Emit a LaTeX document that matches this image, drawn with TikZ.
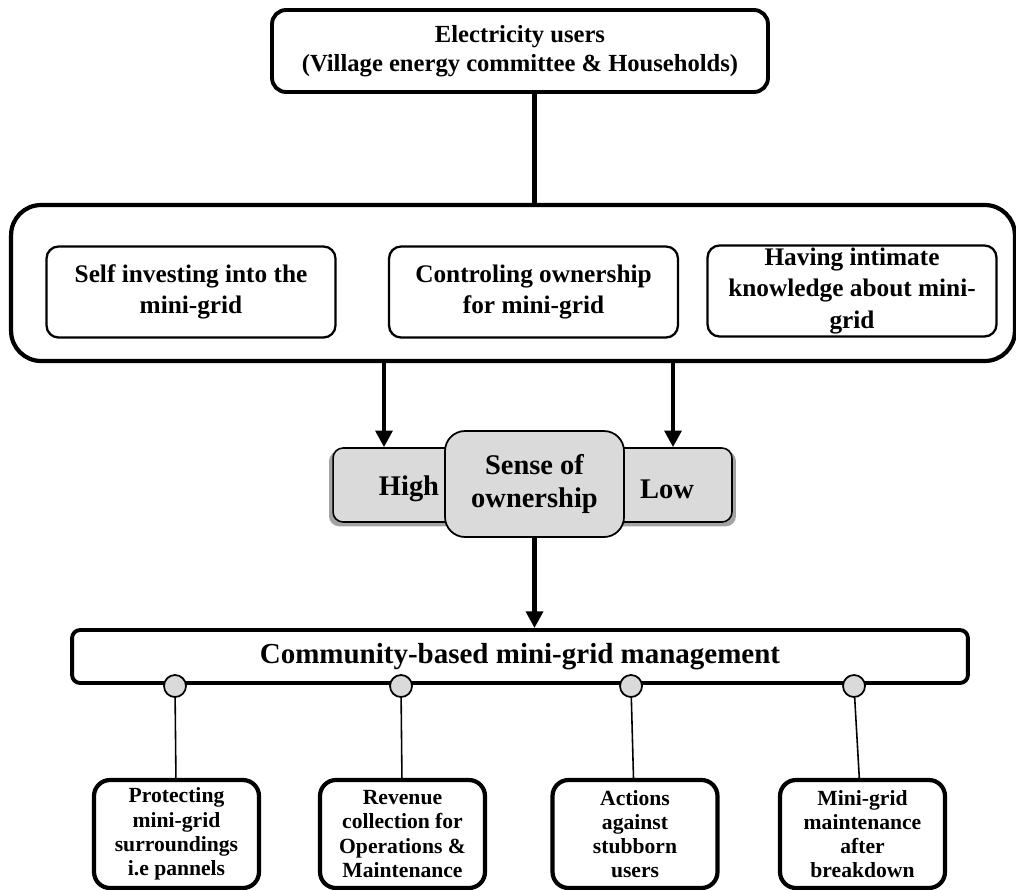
\documentclass[tikz,border=0pt]{standalone}
\usepackage{fontspec}
\setmainfont{Liberation Serif}
\usetikzlibrary{positioning,arrows.meta,shadows}
\definecolor{boxgray}{HTML}{DADADA}

\begin{document}
\begin{tikzpicture}[
    x=0.02cm, y=-0.02cm,
    userbox/.style={draw, line width=2.2pt, rounded corners=0.28cm, minimum width=9.92cm, minimum height=1.64cm, align=center, font=\bfseries\fontsize{14}{16.5}\selectfont},
    groupbox/.style={draw, line width=2.4pt, rounded corners=0.6cm, minimum width=20.08cm, minimum height=3.12cm},
    factor/.style={draw, line width=1.3pt, rounded corners=0.24cm, minimum width=5.78cm, minimum height=1.82cm, inner sep=1pt, align=center, font=\bfseries\fontsize{14.4}{18}\selectfont},
    levelbox/.style={draw, line width=0.9pt, fill=boxgray, rounded corners=0.2cm, minimum width=7.98cm, minimum height=1.48cm, drop shadow={shadow xshift=0pt, shadow yshift=-2pt, shadow scale=1.02, opacity=0.6, fill=black!60}},
    sensebox/.style={draw, line width=1pt, fill=boxgray, rounded corners=0.4cm, minimum width=3.58cm, minimum height=2.12cm, align=center, font=\bfseries\fontsize{16.2}{19}\selectfont},
    levellabel/.style={font=\bfseries\fontsize{16.2}{19}\selectfont},
    mgmtbox/.style={draw, line width=2.2pt, rounded corners=0.16cm, minimum width=17.92cm, minimum height=1.06cm, font=\bfseries\fontsize{16.5}{19}\selectfont},
    taskbox/.style={draw, line width=2.4pt, rounded corners=0.32cm, minimum width=3.3cm, minimum height=2.16cm, inner sep=1pt, align=center, font=\bfseries\fontsize{12.3}{13.8}\selectfont},
    joint/.style={circle, draw, line width=1pt, fill=boxgray, minimum size=0.44cm, inner sep=0pt},
    link/.style={line width=2.6pt},
    thinlink/.style={line width=0.9pt},
    arrow/.style={line width=2.4pt, -{Triangle[length=9.5pt,width=9.5pt]}}
]
    \useasboundingbox (0,0) rectangle (1016,889);

    \node[userbox] (users) at (520,51) {Electricity users\\(Village energy committee \& Households)};

    \node[groupbox] (group) at (513,283) {};
    \node[factor] (invest) at (191,292) {Self investing into the\\mini-grid};
    \node[factor] (control) at (533.5,292) {Controling ownership\\for mini-grid};
    \node[factor] (know) at (852,291) {Having intimate\\knowledge about mini-\\grid};

    \node[levelbox] (level) at (532.5,485) {};
    \node[sensebox] (sense) at (534.5,484) {\rule{0pt}{0.3cm}Sense of\\ownership};
    \node[levellabel] (high) at (409,489) {High};
    \node[levellabel] (low) at (667,489) {Low};

    \node[mgmtbox] (mgmt) at (520,656.5) {Community-based mini-grid management};

    \node[joint] (j1) at (175,686) {};
    \node[joint] (j2) at (401,686) {};
    \node[joint] (j3) at (631,686) {};
    \node[joint] (j4) at (854,686) {};

    \node[taskbox] (protect) at (176.5,834) {Protecting\\mini-grid\\surroundings\\i.e pannels};
    \node[taskbox] (revenue) at (402.5,834) {Revenue\\collection for\\Operations \&\\Maintenance};
    \node[taskbox] (action) at (635,834) {Actions\\against\\stubborn\\users};
    \node[taskbox] (repair) at (862.5,834) {Mini-grid\\maintenance\\after\\breakdown};

    \draw[link] (users.south -| sense.north) -- (group.north -| sense.north);
    \draw[arrow] (group.south -| 384,0) -- (level.north -| 384,0);
    \draw[arrow] (group.south -| 673,0) -- (level.north -| 673,0);
    \draw[arrow] (sense.south) -- (sense.south |- mgmt.north);

    \draw[thinlink] (j1) -- (protect);
    \draw[thinlink] (j2) -- (revenue);
    \draw[thinlink] (j3) -- (action);
    \draw[thinlink] (j4) -- (repair);
\end{tikzpicture}
\end{document}
